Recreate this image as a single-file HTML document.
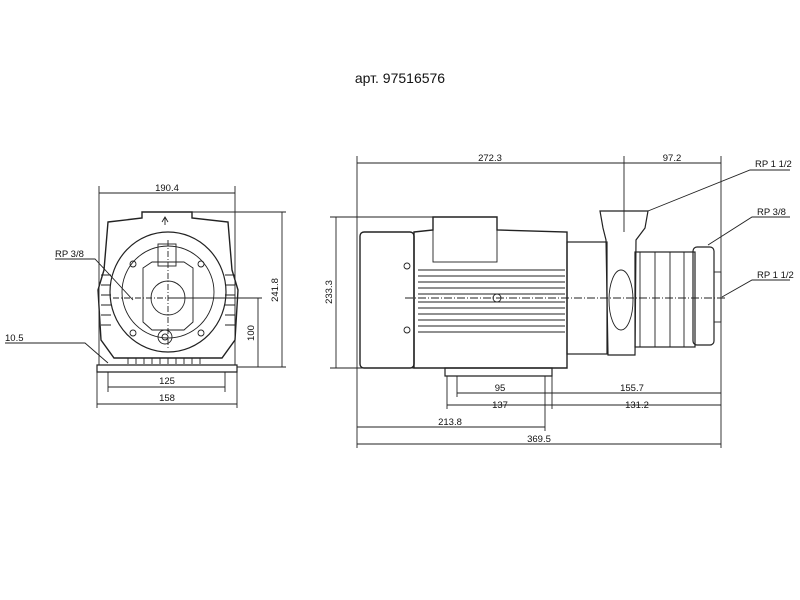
<!DOCTYPE html>
<html><head><meta charset="utf-8"><style>
html,body{margin:0;padding:0;background:#fff;width:800px;height:600px;overflow:hidden}
svg{display:block}
text{font-family:"Liberation Sans",sans-serif;font-size:9.5px;fill:#111}
</style></head><body>
<svg width="800" height="600" viewBox="0 0 800 600" xmlns="http://www.w3.org/2000/svg">
<text x="400" y="83" text-anchor="middle" style="font-size:14px;fill:#111">арт. 97516576</text>
<g stroke="#222" stroke-width="0.9" fill="none">
<!-- FRONT VIEW -->
<line x1="99" y1="186" x2="99" y2="365"/><line x1="235" y1="186" x2="235" y2="365"/>
<line x1="99" y1="193" x2="235" y2="193"/>
<line x1="143" y1="212" x2="286" y2="212"/>
<line x1="282" y1="212" x2="282" y2="367"/>
<line x1="168" y1="298" x2="262" y2="298"/>
<line x1="258" y1="298" x2="258" y2="367"/>
<line x1="237" y1="367" x2="286" y2="367"/>
<path d="M108 222 L142 218 L142 212 L192 212 L192 218 L228 222 L232 270 L238 290 L235 340 L222 358 L114 358 L101 340 L98 290 L104 270 Z" stroke-width="1.4"/>
<path d="M101 275 L111 275 M101 285 L111 285 M101 295 L111 295 M101 305 L111 305 M101 315 L111 315 M101 325 L111 325 M225 275 L235 275 M225 285 L235 285 M225 295 L235 295 M225 305 L235 305 M225 315 L235 315 M225 325 L235 325"/>
<ellipse cx="168" cy="292" rx="58" ry="60" stroke-width="1.2"/>
<ellipse cx="168" cy="292" rx="46" ry="46"/>
<path d="M143 268 L152 262 L184 262 L193 268 L193 322 L184 330 L152 330 L143 322 Z"/>
<circle cx="168" cy="298" r="17"/>
<circle cx="165" cy="337" r="7"/><circle cx="165" cy="337" r="3"/>
<rect x="158" y="244" width="18" height="22"/>
<circle cx="133" cy="264" r="3"/><circle cx="201" cy="264" r="3"/><circle cx="133" cy="333" r="3"/><circle cx="201" cy="333" r="3"/>
<path d="M128 358 L128 364 M136 358 L136 364 M144 358 L144 364 M152 358 L152 364 M160 358 L160 364 M168 358 L168 364 M176 358 L176 364 M184 358 L184 364 M192 358 L192 364 M200 358 L200 364"/>
<path d="M97 365 L237 365 L237 372 L97 372 Z" stroke-width="1.2"/>
<path d="M165 225 L165 218 M162 222 L165 217 L168 222"/>
<line x1="108" y1="372" x2="108" y2="392"/><line x1="225" y1="372" x2="225" y2="392"/>
<line x1="108" y1="387" x2="225" y2="387"/>
<line x1="97" y1="372" x2="97" y2="408"/><line x1="237" y1="372" x2="237" y2="408"/>
<line x1="97" y1="404" x2="237" y2="404"/>
<path d="M55 259 L95 259 L133 300"/>
<path d="M5 343 L85 343 L108 363"/>
<line x1="113" y1="298" x2="225" y2="298" stroke-dasharray="6 2 1 2"/>
<line x1="168" y1="240" x2="168" y2="350" stroke-dasharray="6 2 1 2"/>
<!-- SIDE VIEW -->
<line x1="357" y1="156" x2="357" y2="448"/>
<line x1="624" y1="156" x2="624" y2="232"/>
<line x1="721" y1="156" x2="721" y2="448"/>
<line x1="357" y1="163" x2="721" y2="163"/>
<line x1="330" y1="217" x2="433" y2="217"/>
<line x1="330" y1="368" x2="445" y2="368"/>
<line x1="336" y1="217" x2="336" y2="368"/>
<rect x="360" y="232" width="54" height="136" rx="4" stroke-width="1.4"/>
<path d="M414 232 L433 230 L433 217 L497 217 L497 230 L567 232 L567 368 L414 368 Z" stroke-width="1.4"/>
<rect x="433" y="217" width="64" height="45"/>
<path d="M418 270 L565 270 M418 276 L565 276 M418 282 L565 282 M418 288 L565 288 M418 294 L565 294 M418 302 L565 302 M418 308 L565 308 M418 314 L565 314 M418 320 L565 320 M418 326 L565 326 M418 332 L565 332"/>
<circle cx="497" cy="298" r="4"/>
<circle cx="407" cy="266" r="3"/><circle cx="407" cy="330" r="3"/>
<rect x="567" y="242" width="40" height="112" stroke-width="1.2"/>
<path d="M600 211 L648 211 L645 228 L636 240 L635 355 L608 355 L606 240 L603 228 Z" stroke-width="1.2"/>
<ellipse cx="621" cy="300" rx="12" ry="30"/>
<rect x="635" y="252" width="60" height="95" stroke-width="1.2"/>
<path d="M640 252 L640 347 M655 252 L655 347 M670 252 L670 347 M684 252 L684 347"/>
<rect x="693" y="247" width="21" height="98" rx="4" stroke-width="1.2"/>
<rect x="714" y="272" width="7" height="50"/>
<line x1="405" y1="298" x2="725" y2="298" stroke-dasharray="8 2 1 2"/>
<path d="M445 368 L552 368 L552 376 L445 376 Z" stroke-width="1.2"/>
<line x1="457" y1="376" x2="457" y2="397"/><line x1="545" y1="376" x2="545" y2="431"/>
<line x1="447" y1="376" x2="447" y2="409"/><line x1="552" y1="376" x2="552" y2="409"/>
<line x1="457" y1="393" x2="721" y2="393"/>
<line x1="447" y1="405" x2="721" y2="405"/>
<line x1="357" y1="427" x2="545" y2="427"/>
<line x1="357" y1="444" x2="721" y2="444"/>
<path d="M648 211 L750 170 L790 170"/>
<path d="M708 245 L752 217 L790 217"/>
<path d="M722 297 L752 280 L790 280"/>
</g>
<text x="167" y="191" text-anchor="middle">190.4</text>
<text x="55" y="257">RP 3/8</text>
<text x="5" y="341">10.5</text>
<text x="167" y="384" text-anchor="middle">125</text>
<text x="167" y="401" text-anchor="middle">158</text>
<text x="278" y="290" text-anchor="middle" transform="rotate(-90 278 290)">241.8</text>
<text x="254" y="333" text-anchor="middle" transform="rotate(-90 254 333)">100</text>
<text x="332" y="292" text-anchor="middle" transform="rotate(-90 332 292)">233.3</text>
<text x="490" y="161" text-anchor="middle">272.3</text>
<text x="672" y="161" text-anchor="middle">97.2</text>
<text x="755" y="167">RP 1 1/2</text>
<text x="757" y="215">RP 3/8</text>
<text x="757" y="278">RP 1 1/2</text>
<text x="500" y="391" text-anchor="middle">95</text>
<text x="632" y="391" text-anchor="middle">155.7</text>
<text x="500" y="408" text-anchor="middle">137</text>
<text x="637" y="408" text-anchor="middle">131.2</text>
<text x="450" y="425" text-anchor="middle">213.8</text>
<text x="539" y="442" text-anchor="middle">369.5</text>
</svg>
</body></html>
